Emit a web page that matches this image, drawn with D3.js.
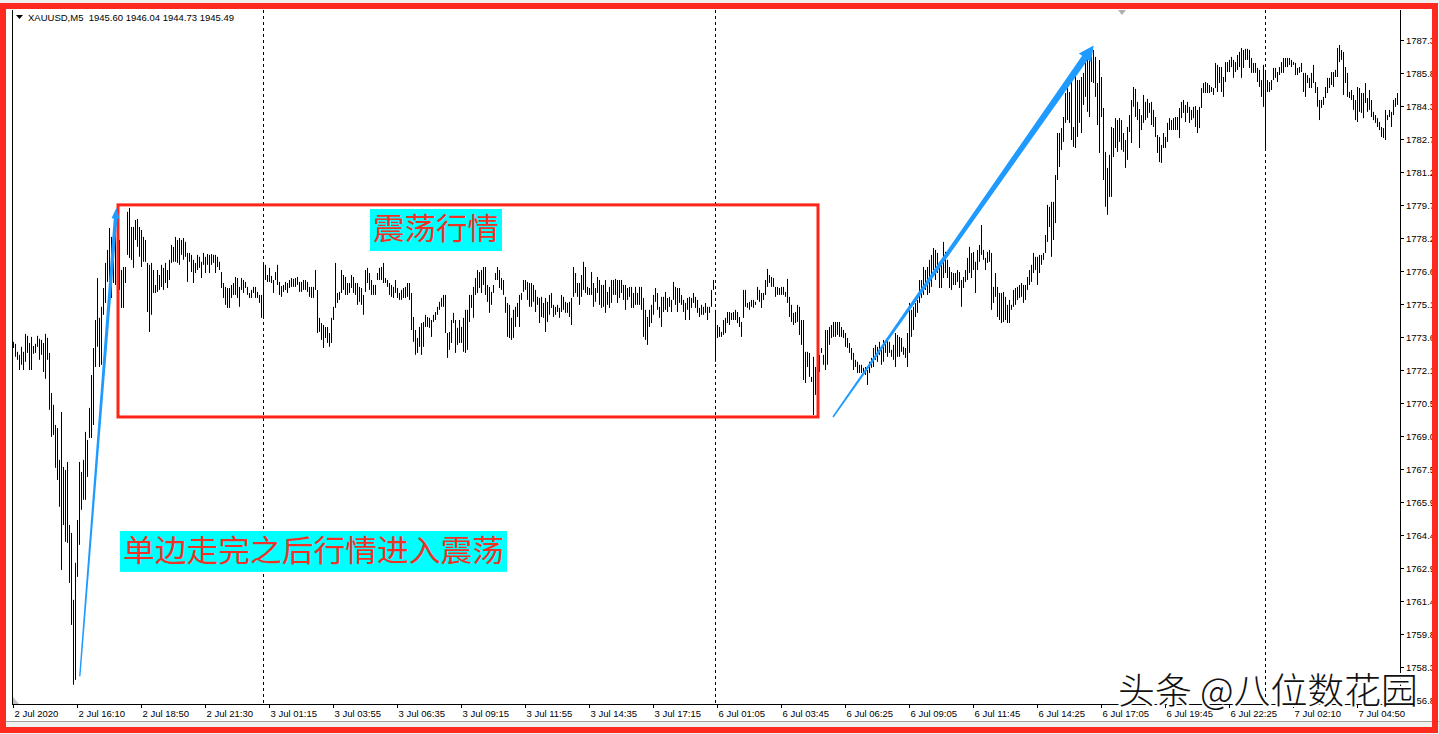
<!DOCTYPE html>
<html><head><meta charset="utf-8">
<script src="https://cdn.jsdelivr.net/npm/d3@7"></script>
<style>html,body{margin:0;padding:0;background:#fff;overflow:hidden}svg{display:block}</style>
</head><body><svg id="c" width="1439" height="734"></svg>
<script>
const symbolInfo = "XAUUSD,M5  1945.60 1946.04 1944.73 1945.49";
const highs = [
1773.35,1773.26,1772.89,1772.75,1773.12,1772.89,1773.72,1773.63,1773.30,1773.58,
1773.16,1773.26,1773.63,1773.49,1773.44,1773.30,1773.72,1773.54,1772.84,1770.99,
1770.44,1769.51,1769.37,1767.90,1770.11,1767.57,1767.43,1767.80,1764.89,1764.52,
1761.43,1763.14,1765.12,1767.80,1767.34,1767.90,1769.19,1768.82,1770.30,1771.82,
1773.07,1774.36,1776.30,1774.46,1774.97,1775.84,1777.00,1777.60,1778.61,1778.20,
1778.52,1779.31,1779.22,1778.06,1776.67,1776.81,1776.81,1779.36,1779.54,1778.66,
1778.66,1778.98,1779.03,1778.66,1778.52,1778.20,1778.06,1777.00,1776.91,1777.00,
1776.67,1775.98,1776.67,1776.44,1776.91,1776.77,1777.00,1776.67,1777.14,1777.83,
1777.74,1778.20,1778.06,1778.15,1778.06,1778.15,1777.97,1777.46,1777.46,1777.37,
1777.14,1777.00,1777.37,1777.28,1777.05,1777.46,1777.28,1777.41,1777.37,1777.41,
1777.37,1777.37,1777.28,1777.05,1776.58,1776.07,1775.89,1775.84,1775.84,1775.98,
1776.07,1776.35,1776.30,1775.89,1776.30,1776.21,1776.12,1775.89,1775.61,1775.75,
1775.89,1775.89,1775.66,1775.52,1775.52,1777.00,1776.91,1776.44,1776.77,1776.40,
1776.21,1776.58,1776.91,1776.12,1775.93,1775.98,1776.12,1776.07,1776.21,1776.30,
1776.26,1776.30,1776.35,1776.12,1776.12,1776.21,1776.21,1776.12,1775.89,1775.89,
1775.89,1776.67,1775.75,1774.46,1774.22,1774.13,1774.04,1774.04,1773.76,1774.46,
1774.97,1777.00,1775.61,1775.66,1776.67,1776.44,1776.35,1776.07,1776.07,1776.44,
1776.35,1776.07,1776.07,1775.89,1775.84,1775.52,1776.67,1776.77,1776.53,1776.21,
1775.98,1775.98,1776.53,1776.77,1776.81,1777.00,1776.30,1776.21,1776.07,1775.98,
1775.89,1776.21,1775.84,1775.61,1775.75,1775.84,1775.89,1776.07,1776.07,1775.61,
1774.50,1773.90,1773.53,1774.04,1774.22,1774.27,1774.60,1774.50,1774.46,1774.36,
1774.60,1774.73,1774.97,1775.20,1775.38,1775.52,1775.52,1773.76,1773.81,1774.36,
1774.69,1774.36,1774.00,1774.36,1774.04,1774.46,1774.83,1774.83,1775.52,1775.52,
1775.89,1776.30,1776.67,1776.58,1776.67,1776.81,1776.81,1775.98,1775.89,1775.66,
1775.98,1776.53,1776.81,1776.67,1776.30,1776.21,1775.43,1775.15,1775.06,1774.46,
1774.83,1774.97,1775.15,1775.52,1775.61,1776.21,1776.21,1776.12,1776.07,1776.07,
1775.98,1775.75,1775.43,1775.38,1775.43,1775.15,1775.38,1775.20,1775.52,1775.61,
1775.06,1774.97,1775.06,1774.92,1775.52,1775.43,1775.20,1775.15,1775.20,1775.38,
1776.81,1776.53,1776.07,1776.07,1776.44,1777.05,1776.81,1775.89,1775.84,1776.58,
1776.07,1775.84,1776.35,1776.21,1775.98,1775.98,1776.21,1775.66,1775.89,1776.21,
1776.21,1776.26,1776.21,1776.21,1776.21,1775.98,1775.98,1775.84,1775.89,1775.89,
1775.61,1775.89,1775.61,1775.89,1775.89,1775.38,1774.83,1774.50,1774.83,1775.06,
1775.52,1775.84,1775.61,1774.97,1775.43,1775.43,1775.66,1775.38,1775.43,1775.29,
1776.12,1775.89,1775.84,1775.84,1775.52,1775.29,1775.15,1775.38,1775.43,1775.38,
1775.61,1775.43,1775.29,1774.92,1775.06,1774.97,1775.15,1774.97,1774.97,1775.75,
1776.21,1774.83,1774.13,1774.04,1773.81,1774.36,1774.46,1774.73,1774.73,1774.69,
1774.73,1774.83,1774.73,1774.50,1774.27,1775.75,1775.75,1775.15,1775.20,1775.29,
1775.29,1775.20,1775.89,1775.75,1775.61,1775.61,1776.21,1776.72,1776.44,1776.35,
1776.30,1775.89,1775.89,1775.84,1775.89,1775.89,1775.66,1776.26,1775.43,1775.06,
1774.69,1774.73,1775.06,1774.97,1774.36,1774.36,1772.89,1772.89,1772.84,1771.73,
1772.66,1772.19,1772.29,1772.75,1773.07,1772.75,1773.90,1773.90,1774.04,1774.13,
1774.27,1774.27,1774.27,1774.27,1774.04,1773.90,1773.76,1773.53,1773.30,1773.07,
1772.84,1772.52,1772.43,1772.29,1772.29,1772.15,1772.19,1772.05,1772.43,1772.61,
1773.07,1773.21,1773.12,1773.35,1773.07,1773.44,1773.35,1773.44,1773.35,1772.98,
1773.21,1773.76,1773.67,1773.58,1773.53,1773.12,1773.07,1773.76,1775.15,1774.83,
1774.97,1775.15,1775.29,1776.21,1776.21,1776.81,1776.67,1776.81,1777.14,1777.37,
1777.69,1777.60,1777.46,1777.05,1777.14,1777.97,1777.51,1777.14,1776.81,1776.58,
1776.53,1776.53,1776.67,1776.58,1776.21,1776.35,1776.67,1777.23,1777.74,1777.46,
1777.51,1777.05,1777.60,1777.83,1778.75,1777.60,1777.23,1777.51,1777.60,1777.46,
1775.89,1776.53,1775.89,1775.61,1775.61,1775.66,1775.43,1775.06,1775.29,1775.06,
1775.75,1775.84,1775.89,1775.98,1776.07,1775.98,1775.98,1776.35,1776.67,1776.91,
1777.46,1777.28,1777.28,1777.37,1777.37,1777.46,1778.29,1779.68,1779.59,1779.82,
1779.82,1781.06,1783.00,1783.00,1783.23,1783.74,1784.85,1785.31,1784.90,1785.45,
1783.28,1785.78,1785.45,1785.45,1785.59,1785.78,1786.52,1786.84,1786.38,1786.70,
1786.84,1786.52,1785.31,1786.38,1785.59,1784.16,1782.13,1781.39,1781.99,1783.28,
1783.23,1783.69,1783.60,1783.69,1783.60,1783.00,1782.68,1783.28,1783.83,1784.53,
1785.13,1785.04,1784.44,1784.11,1783.83,1784.76,1784.44,1784.58,1784.39,1784.44,
1784.07,1783.74,1782.91,1782.82,1782.45,1783.00,1782.82,1783.47,1783.69,1783.60,
1783.69,1783.74,1783.74,1784.16,1784.44,1784.53,1784.30,1784.44,1784.21,1784.07,
1784.21,1784.25,1784.07,1784.21,1785.08,1785.31,1785.36,1785.31,1785.22,1785.13,
1785.08,1786.24,1786.15,1786.05,1786.05,1785.59,1786.28,1786.28,1786.38,1786.52,
1786.38,1786.28,1786.61,1786.75,1786.93,1786.84,1786.89,1786.89,1786.84,1786.47,
1786.24,1786.24,1786.01,1785.92,1785.45,1786.15,1785.92,1785.45,1785.36,1785.45,
1786.01,1786.01,1785.82,1786.05,1786.28,1786.47,1786.47,1786.47,1786.47,1786.38,
1786.28,1786.24,1786.01,1786.05,1786.24,1785.78,1785.78,1785.68,1785.55,1785.78,
1786.15,1785.36,1785.13,1784.53,1784.53,1784.67,1785.13,1785.55,1785.55,1785.82,
1785.82,1785.92,1786.93,1787.07,1786.84,1786.75,1786.05,1785.78,1784.90,1784.99,
1784.76,1784.53,1785.13,1785.08,1784.85,1784.85,1785.31,1784.62,1784.99,1784.53,
1783.98,1783.83,1783.69,1783.51,1783.28,1783.23,1784.07,1783.83,1784.07,1783.98,
1784.53,1784.62,1784.85];
const lows = [
1773.07,1772.66,1772.52,1772.05,1772.29,1772.05,1772.43,1772.84,1772.05,1772.05,
1772.80,1772.84,1773.12,1772.52,1772.75,1771.96,1771.64,1772.52,1770.21,1768.96,
1769.05,1767.53,1766.97,1765.73,1762.81,1764.89,1764.11,1764.06,1762.21,1760.27,
1757.50,1757.73,1762.49,1763.97,1765.59,1766.05,1766.05,1767.11,1768.91,1768.91,
1769.51,1772.19,1773.12,1772.19,1772.29,1774.60,1775.15,1776.12,1775.43,1775.38,
1776.07,1775.98,1776.44,1775.75,1774.92,1774.92,1776.07,1777.37,1777.23,1777.14,
1776.77,1778.06,1777.74,1777.28,1776.81,1777.05,1777.05,1774.73,1773.81,1774.60,
1775.61,1775.61,1775.66,1775.75,1775.89,1775.75,1776.07,1775.84,1776.21,1777.00,
1777.05,1777.05,1777.00,1776.91,1777.37,1777.14,1777.28,1776.12,1777.05,1776.58,
1776.07,1776.53,1776.67,1776.77,1776.30,1776.91,1776.53,1776.91,1776.53,1776.91,
1777.00,1776.53,1776.81,1776.67,1775.84,1775.38,1775.06,1774.92,1774.92,1775.38,
1775.52,1775.52,1775.38,1774.97,1775.75,1775.61,1775.84,1775.52,1775.38,1775.38,
1775.61,1775.38,1775.38,1775.15,1774.46,1774.50,1776.21,1776.12,1776.12,1776.07,
1775.61,1776.21,1775.98,1775.52,1775.43,1775.66,1775.75,1775.61,1775.84,1775.89,
1775.89,1775.89,1775.98,1775.66,1775.66,1775.75,1775.75,1775.66,1775.43,1775.38,
1775.38,1775.75,1773.76,1773.81,1773.44,1773.07,1773.53,1773.30,1773.12,1773.30,
1774.36,1774.92,1775.15,1775.29,1775.61,1775.75,1775.52,1775.52,1775.61,1775.84,
1775.61,1775.52,1775.06,1775.20,1775.06,1774.60,1775.66,1776.07,1775.75,1775.52,
1775.52,1775.52,1776.21,1776.21,1776.21,1776.07,1776.07,1775.89,1775.52,1775.43,
1775.38,1775.61,1775.38,1775.29,1775.29,1775.38,1775.38,1775.43,1775.29,1773.90,
1773.35,1772.75,1772.84,1773.12,1772.75,1773.12,1774.04,1774.04,1774.00,1773.58,
1774.27,1774.36,1774.60,1774.83,1774.97,1774.97,1773.76,1772.61,1772.98,1773.30,
1774.22,1772.84,1773.21,1773.30,1773.30,1772.89,1772.84,1772.98,1774.27,1774.92,
1774.46,1775.52,1775.61,1775.84,1775.61,1775.98,1775.52,1775.20,1774.69,1775.06,
1775.61,1776.21,1776.21,1775.84,1775.75,1775.52,1774.69,1773.58,1773.53,1773.44,
1773.53,1774.04,1774.50,1774.04,1775.29,1775.66,1775.75,1775.29,1774.97,1774.97,
1775.20,1774.73,1775.06,1774.22,1774.50,1774.46,1773.81,1774.27,1774.60,1774.92,
1774.50,1774.60,1774.73,1774.46,1774.73,1774.83,1774.69,1774.69,1774.50,1774.13,
1775.43,1775.61,1775.43,1775.06,1775.43,1775.75,1775.61,1775.52,1775.52,1775.52,
1774.97,1775.20,1775.61,1775.06,1774.92,1774.97,1774.69,1775.06,1774.92,1775.15,
1775.52,1775.52,1775.15,1775.38,1775.61,1775.29,1774.83,1775.29,1775.43,1774.92,
1774.92,1775.06,1775.06,1775.06,1774.83,1773.58,1773.44,1773.21,1774.04,1774.22,
1774.60,1775.20,1774.83,1774.46,1774.04,1774.73,1774.83,1774.73,1774.97,1774.73,
1775.29,1775.06,1774.73,1775.15,1775.06,1774.73,1774.36,1774.83,1774.36,1774.92,
1775.15,1774.92,1774.69,1774.50,1774.60,1774.60,1774.69,1774.36,1774.69,1774.97,
1775.75,1772.43,1773.53,1773.58,1773.58,1773.67,1773.76,1774.22,1774.13,1774.36,
1774.36,1774.36,1774.22,1774.04,1773.58,1774.46,1774.97,1774.92,1774.83,1774.97,
1774.92,1775.06,1775.29,1775.20,1774.92,1775.29,1775.52,1775.89,1776.07,1775.89,
1775.89,1775.43,1775.52,1775.52,1775.52,1775.52,1775.43,1775.15,1774.50,1774.27,
1774.13,1774.22,1774.27,1773.67,1773.21,1771.59,1771.45,1772.19,1771.73,1771.50,
1769.97,1770.90,1771.36,1771.96,1772.84,1772.29,1772.05,1772.29,1773.21,1773.53,
1773.58,1773.58,1773.67,1773.58,1773.58,1773.53,1773.12,1773.07,1772.84,1772.52,
1772.05,1772.19,1771.91,1771.91,1771.91,1771.91,1771.82,1771.36,1771.91,1772.15,
1772.19,1772.52,1772.43,1772.75,1772.29,1772.43,1772.84,1772.66,1772.84,1772.66,
1772.52,1772.19,1772.66,1772.66,1772.89,1772.75,1772.61,1772.19,1772.84,1773.58,
1773.90,1774.50,1774.69,1775.15,1775.38,1775.52,1775.75,1775.52,1775.61,1775.89,
1776.67,1776.21,1776.53,1775.84,1775.84,1776.30,1776.53,1776.30,1775.84,1775.75,
1775.98,1775.98,1776.12,1775.84,1774.97,1775.84,1776.12,1776.21,1776.53,1776.30,
1776.67,1775.61,1776.67,1777.05,1777.37,1777.14,1776.67,1777.00,1777.05,1774.83,
1775.15,1775.43,1774.50,1774.36,1774.22,1774.27,1774.36,1774.22,1774.22,1774.83,
1774.97,1775.06,1775.29,1775.38,1775.43,1775.15,1775.29,1775.75,1775.98,1776.12,
1776.53,1776.67,1775.98,1776.53,1776.91,1777.14,1777.46,1777.97,1778.66,1777.28,
1778.06,1778.84,1780.83,1781.43,1782.22,1782.59,1783.47,1783.60,1783.47,1782.68,
1782.36,1782.31,1782.82,1783.47,1783.00,1784.30,1784.67,1783.98,1783.74,1785.36,
1785.31,1784.67,1783.37,1782.08,1783.74,1780.83,1779.59,1779.22,1780.05,1780.05,
1781.89,1782.31,1782.13,1782.59,1782.22,1782.13,1781.39,1781.76,1783.05,1782.54,
1784.21,1783.74,1783.60,1782.31,1783.14,1783.47,1783.60,1783.70,1783.93,1783.37,
1783.28,1782.82,1782.08,1781.66,1781.62,1782.31,1782.31,1782.59,1783.14,1783.14,
1783.14,1783.14,1783.14,1782.77,1783.69,1783.93,1783.51,1783.93,1783.47,1783.60,
1783.69,1783.28,1783.00,1783.23,1784.16,1784.85,1784.85,1784.85,1784.85,1784.90,
1784.76,1785.08,1784.90,1785.31,1784.90,1784.67,1785.36,1785.82,1785.82,1786.05,
1785.55,1785.82,1785.92,1786.05,1785.55,1786.01,1786.38,1786.38,1786.01,1785.78,
1785.78,1785.78,1785.36,1785.13,1784.67,1784.21,1782.22,1784.90,1784.90,1784.99,
1785.45,1785.55,1785.36,1785.68,1785.78,1785.78,1786.05,1786.05,1786.15,1786.05,
1786.15,1785.68,1785.68,1785.78,1785.82,1784.90,1784.67,1785.31,1785.08,1785.08,
1785.31,1784.85,1784.21,1783.60,1784.16,1784.30,1784.62,1784.85,1785.08,1785.22,
1785.13,1785.59,1785.59,1786.28,1786.38,1784.76,1785.31,1784.67,1784.62,1784.53,
1784.07,1783.60,1783.51,1783.98,1783.93,1783.69,1784.39,1783.98,1784.07,1783.74,
1783.60,1783.47,1783.28,1783.14,1782.82,1782.77,1782.68,1783.60,1783.74,1783.28,
1783.83,1784.21,1784.30];
const timeLabels = ["2 Jul 2020","2 Jul 16:10","2 Jul 18:50","2 Jul 21:30","3 Jul 01:15","3 Jul 03:55","3 Jul 06:35","3 Jul 09:15","3 Jul 11:55","3 Jul 14:35","3 Jul 17:15","6 Jul 01:05","6 Jul 03:45","6 Jul 06:25","6 Jul 09:05","6 Jul 11:45","6 Jul 14:25","6 Jul 17:05","6 Jul 19:45","6 Jul 22:25","7 Jul 02:10","7 Jul 04:50"];
const timeTickBars = [0,32,64,96,128,160,192,224,256,288,320,352,384,416,448,480,512,544,576,608,640,672];
const daySeparatorBars = [125,351,626];
const priceLabels = ["1787.3","1785.8","1784.3","1782.7","1781.2","1779.7","1778.2","1776.6","1775.1","1773.6","1772.1","1770.5","1769.0","1767.5","1765.9","1764.4","1762.9","1761.4","1759.8","1758.3","1756.8"];
const priceTicks = [1787.30,1785.78,1784.25,1782.73,1781.20,1779.68,1778.15,1776.63,1775.10,1773.58,1772.05,1770.53,1769.00,1767.48,1765.95,1764.43,1762.90,1761.38,1759.85,1758.33,1756.80];
// annotations, anchored in (bar index, price)
const boxRange = {b0:52.5, b1:402.5, p0:1769.88, p1:1779.68};
const arrows = [
  {from:[33.4,1757.9], to:[51.7,1779.55], w0:1.4, w1:3.6, hl:11, hw:4},
  {from:[410,1769.88], to:[540.3,1787.05], w0:1.6, w1:7, hl:15, hw:7.5}
];
const labels = [
  {text:"震荡行情", b0:178.5, b1:244.5, p0:1777.55, p1:1779.49},
  {text:"单边走完之后行情进入震荡", b0:53.5, b1:247, p0:1762.72, p1:1764.61}
];
const watermark = "头条 @八位数花园";

const svg = d3.select("#c");
const W = 1439, H = 734;
const x = d3.scaleLinear().domain([0, 692]).range([13, 1397]);
const y = d3.scaleLinear().domain([1756.8, 1787.3]).range([700, 40]);
const chartL = 12, chartR = 1400, chartT = 10, chartB = 704;

svg.append("rect").attr("width", W).attr("height", H).attr("fill", "#fff");
svg.append("rect").attr("x",0).attr("y",0).attr("width",W).attr("height",4).attr("fill","#f0f0f0");
svg.append("rect").attr("x",0).attr("y",721).attr("width",W).attr("height",13).attr("fill","#f0f0f0");
svg.append("line").attr("x1",0).attr("x2",W).attr("y1",721.5).attr("y2",721.5).attr("stroke","#a0a0a0");

// day separators
svg.append("g").selectAll("line").data(daySeparatorBars).join("line")
  .attr("x1", d => Math.round(x(d)) + 0.5).attr("x2", d => Math.round(x(d)) + 0.5)
  .attr("y1", chartT).attr("y2", chartB)
  .attr("stroke", "#000").attr("stroke-width", 1).attr("stroke-dasharray", "3,3");

// bars
svg.append("g").selectAll("line").data(highs).join("line")
  .attr("x1", (d, i) => Math.round(x(i)) + 0.5).attr("x2", (d, i) => Math.round(x(i)) + 0.5)
  .attr("y1", d => y(d))
  .attr("y2", (d, i) => Math.max(y(lows[i]), y(d) + 1))
  .attr("stroke", "#000").attr("stroke-width", 1);

// frame
svg.append("line").attr("x1", chartL+0.5).attr("x2", chartL+0.5).attr("y1", chartT).attr("y2", chartB).attr("stroke","#000");
svg.append("line").attr("x1", chartR+0.5).attr("x2", chartR+0.5).attr("y1", chartT).attr("y2", chartB+1).attr("stroke","#000");
svg.append("line").attr("x1", chartL).attr("x2", chartR+1).attr("y1", chartB+0.5).attr("y2", chartB+0.5).attr("stroke","#000");

// x axis
const xa = svg.append("g").attr("font-family", "Liberation Sans, Arial, sans-serif").attr("font-size", "9.5px").attr("fill","#000");
timeTickBars.forEach((b, k) => {
  const px = Math.round(x(b)) + 0.5;
  xa.append("line").attr("x1", px).attr("x2", px).attr("y1", chartB).attr("y2", chartB + 4).attr("stroke","#000");
  xa.append("text").attr("x", px + 1).attr("y", 717).text(timeLabels[k]);
});
// y axis
const ya = svg.append("g").attr("font-family", "Liberation Sans, Arial, sans-serif").attr("font-size", "9.5px").attr("fill","#000");
priceTicks.forEach((p, k) => {
  const py = Math.round(y(p)) + 0.5;
  ya.append("line").attr("x1", chartR).attr("x2", chartR + 4).attr("y1", py).attr("y2", py).attr("stroke","#000");
  ya.append("text").attr("x", chartR + 6).attr("y", py + 3.5).text(priceLabels[k]);
});

// header
svg.append("path").attr("d", "M16,15 L23,15 L19.5,19 Z").attr("fill", "#000");
svg.append("text").attr("x", 28).attr("y", 21).attr("font-family", "Liberation Sans, Arial, sans-serif")
  .attr("font-size", "9.5px").attr("fill","#000").attr("xml:space","preserve").style("white-space","pre").text(symbolInfo);

// markers
svg.append("path").attr("d", "M1118,10 L1126,10 L1122,15 Z").attr("fill", "#b0b0b0");
svg.append("path").attr("d", "M13,697 L13,704 L19,704 Z").attr("fill", "#c0c0c0");

// red box
svg.append("rect")
  .attr("x", x(boxRange.b0)).attr("y", y(boxRange.p1))
  .attr("width", x(boxRange.b1) - x(boxRange.b0)).attr("height", y(boxRange.p0) - y(boxRange.p1))
  .attr("fill", "none").attr("stroke", "#ff2418").attr("stroke-width", 3);

// cyan labels
labels.forEach(l => {
  const x0 = x(l.b0), x1 = x(l.b1), y0 = y(l.p1), y1 = y(l.p0);
  svg.append("rect").attr("x", x0).attr("y", y0).attr("width", x1 - x0).attr("height", y1 - y0).attr("fill", "#00ffff");
  svg.append("text").attr("x", x0 + 3).attr("y", (y0 + y1) / 2 + 1).attr("dominant-baseline", "middle")
    .attr("font-family", "Noto Sans CJK SC, sans-serif").attr("font-size", "30px").attr("fill", "#ee3326")
    .attr("textLength", x1 - x0 - 6).attr("lengthAdjust", "spacingAndGlyphs").text(l.text);
});

// blue arrows
arrows.forEach(a => {
  const sx = x(a.from[0]), sy = y(a.from[1]), tx = x(a.to[0]), ty = y(a.to[1]);
  const L = Math.hypot(tx - sx, ty - sy), ux = (tx - sx) / L, uy = (ty - sy) / L, nx = -uy, ny = ux;
  const hx = tx - ux * a.hl, hy = ty - uy * a.hl;
  const pts = [
    [sx + nx * a.w0 / 2, sy + ny * a.w0 / 2], [hx + nx * a.w1 / 2, hy + ny * a.w1 / 2], [hx + nx * a.hw, hy + ny * a.hw],
    [tx, ty], [hx - nx * a.hw, hy - ny * a.hw], [hx - nx * a.w1 / 2, hy - ny * a.w1 / 2], [sx - nx * a.w0 / 2, sy - ny * a.w0 / 2]
  ];
  svg.append("path").attr("d", "M" + pts.map(p => p.join(",")).join("L") + "Z").attr("fill", "#1f9bff");
});

// watermark (overlays the axis corner, as in the reference)
svg.append("text").attr("x", 1118).attr("y", 704).attr("font-family", "Noto Sans CJK SC, sans-serif")
  .attr("font-size", "36px").attr("font-weight", 300).attr("fill", "#111").attr("stroke", "#fff").attr("stroke-width", 4)
  .attr("paint-order", "stroke").attr("stroke-linejoin", "round")
  .attr("textLength", 300).attr("lengthAdjust", "spacingAndGlyphs").text(watermark);

// outer red frame
svg.append("rect").attr("x", 3).attr("y", 6).attr("width", W - 7).attr("height", H - 10)
  .attr("fill", "none").attr("stroke", "#ff2a1f").attr("stroke-width", 6);
</script></body></html>
